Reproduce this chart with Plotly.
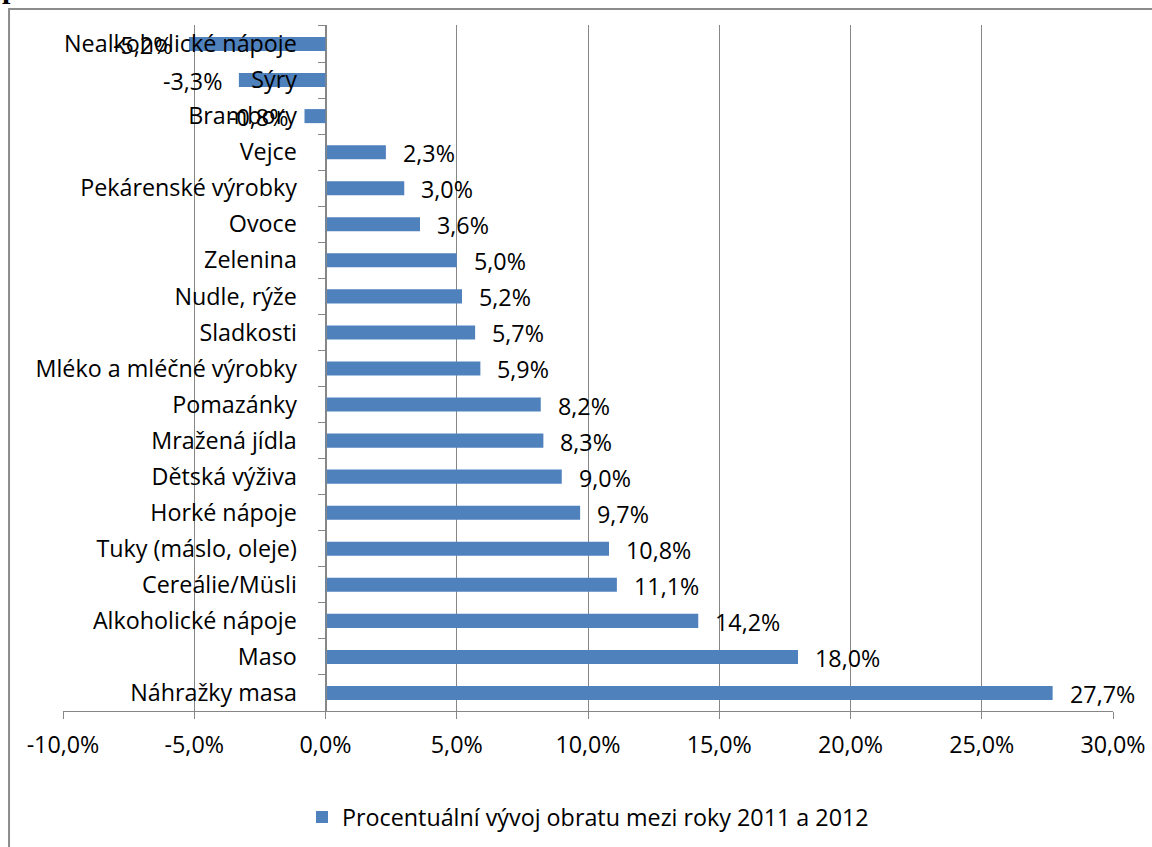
import plotly.graph_objects as go

# Kategorie potravin (shora dolů) a meziroční změna obratu v %
categories = [
    "Nealkoholické nápoje", "Sýry", "Brambory", "Vejce", "Pekárenské výrobky",
    "Ovoce", "Zelenina", "Nudle, rýže", "Sladkosti", "Mléko a mléčné výrobky",
    "Pomazánky", "Mražená jídla", "Dětská výživa", "Horké nápoje",
    "Tuky (máslo, oleje)", "Cereálie/Müsli", "Alkoholické nápoje", "Maso",
    "Náhražky masa",
]
values = [
    -5.2, -3.3, -0.8, 2.3, 3.0, 3.6, 5.0, 5.2, 5.7, 5.9,
    8.2, 8.3, 9.0, 9.7, 10.8, 11.1, 14.2, 18.0, 27.7,
]
series_name = "Procentuální vývoj obratu mezi roky 2011 a 2012"
x_ticks = [-10, -5, 0, 5, 10, 15, 20, 25, 30]


def pct(v):
    return f"{v:.1f}%".replace(".", ",")


FONT = "Open Sans"
FS = 23.3
GRID = "#868686"
BAR = "#4f81bd"

fig = go.Figure()
fig.add_trace(go.Bar(
    x=values, y=categories, orientation="h",
    marker=dict(color=BAR, line=dict(width=0)),
    width=0.39, name=series_name, showlegend=True,
))

# popisky hodnot vedle konců pruhů
for cat, v in zip(categories, values):
    fig.add_annotation(
        x=v, y=cat, xref="x", yref="y", text=pct(v), showarrow=False,
        xanchor="left" if v > 0 else "right", yanchor="middle",
        xshift=15 if v > 0 else -15, yshift=-1,
        font=dict(family=FONT, size=FS, color="#000000"),
    )

# nadpis (zbytek z předchozího řádku stránky)
fig.add_annotation(
    x=-0.06, y=1.054, xref="paper", yref="paper", text="<b>procentech</b>",
    showarrow=False, xanchor="left", yanchor="middle",
    font=dict(family="Liberation Serif", size=30, color="#000000"),
)

# rámeček oblasti grafu
fig.add_shape(
    type="rect", xref="paper", yref="paper",
    x0=-0.0514, x1=1.06, y0=-0.23, y1=1.0233,
    line=dict(color="#8c8c8c", width=2), layer="below",
)

fig.update_layout(
    width=1152, height=847,
    margin=dict(l=63, r=39, t=25, b=136, autoexpand=False),
    paper_bgcolor="white", plot_bgcolor="white",
    font=dict(family=FONT, size=FS, color="#000000"),
    bargap=0.61,
    legend=dict(
        orientation="h", x=0.5, y=-0.155, xanchor="center", yanchor="middle",
        font=dict(family=FONT, size=FS, color="#000000"),
        itemwidth=30,
    ),
    xaxis=dict(
        range=[-10, 30], tickvals=x_ticks, ticktext=[pct(t) for t in x_ticks],
        showgrid=True, gridcolor=GRID, gridwidth=1,
        zeroline=False, showline=True, linecolor=GRID, linewidth=1,
        ticks="outside", ticklen=7, tickcolor=GRID, tickwidth=1,
        ticklabelstandoff=6,
        domain=[0, 1],
    ),
    yaxis=dict(
        autorange="reversed", type="category",
        anchor="free", position=0.25,
        showgrid=False, zeroline=False,
        showline=True, linecolor=GRID, linewidth=1,
        ticks="outside", ticklen=8, tickcolor=GRID, tickwidth=1,
        tickson="boundaries", ticklabelstandoff=24,
    ),
)

fig.write_html("out.html")
